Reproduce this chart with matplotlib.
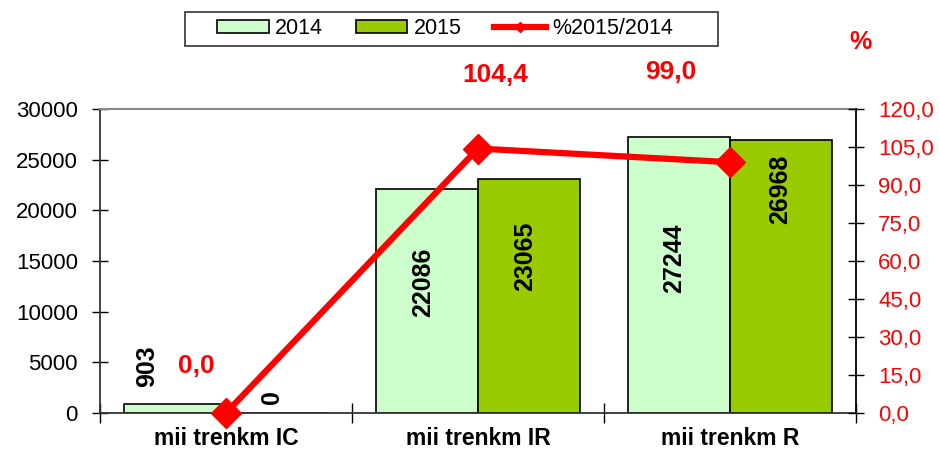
import numpy as np
import matplotlib.pyplot as plt
from matplotlib.patches import Rectangle
from matplotlib.ticker import FuncFormatter, MultipleLocator

plt.rcParams['font.family'] = ['Liberation Sans', 'DejaVu Sans']

# --- data ---
categories = ['mii trenkm IC', 'mii trenkm IR', 'mii trenkm R']
values_2014 = [903, 22086, 27244]
values_2015 = [0, 23065, 26968]
pct_2015_2014 = [0.0, 104.4, 99.0]

# label nudges (pixels), the labels were dragged by hand in the original
off_2014 = [(-28, 38), (-4, -93), (-5, -121)]
off_2015 = [(-5, 16), (-4, -77), (-1, -50)]
off_pct = [(-30, 47), (17, 74), (-59, 90)]

C14 = '#CCFFCC'
C15 = '#99CC00'
RED = '#FF0000'

fig = plt.figure(figsize=(9.39, 4.5), dpi=100)
ax = fig.add_axes([100 / 939, 1 - 413 / 450, 756 / 939, 304 / 450])

x = np.arange(len(categories))
w = 0.405
ax.bar(x - w / 2, values_2014, w, color=C14, edgecolor='black', linewidth=1.2, label='2014', zorder=2)
ax.bar(x + w / 2, values_2015, w, color=C15, edgecolor='black', linewidth=1.2, label='2015', zorder=2)

ax.set_xlim(-0.5, 2.5)
ax.set_ylim(0, 30000)
ax.yaxis.set_major_locator(MultipleLocator(5000))
ax.set_xticks([-0.5, 0.5, 1.5, 2.5])
ax.set_xticklabels([])
ax.set_xticks(x, minor=True)
ax.set_xticklabels(categories, minor=True, fontsize=16.5, fontweight='bold')
ax.tick_params(axis='x', which='minor', length=0, pad=10)
ax.tick_params(axis='x', which='major', direction='inout', length=14, width=1)
ax.tick_params(axis='y', direction='inout', length=12, width=1, labelsize=16, pad=10)

for side in ['left', 'bottom']:
    ax.spines[side].set_color('#333333')
    ax.spines[side].set_linewidth(1.3)
ax.spines['top'].set_color('#888888')
ax.spines['top'].set_linewidth(1.5)
ax.spines['right'].set_visible(False)

for i in range(len(categories)):
    ax.annotate(str(values_2014[i]), (x[i] - w / 2, values_2014[i]), xytext=off_2014[i],
                textcoords='offset pixels', ha='center', va='center', rotation=90,
                fontsize=18, fontweight='bold', zorder=5)
    ax.annotate(str(values_2015[i]), (x[i] + w / 2, values_2015[i]), xytext=off_2015[i],
                textcoords='offset pixels', ha='center', va='center', rotation=90,
                fontsize=18, fontweight='bold', zorder=5)

ax2 = ax.twinx()
ax2.set_ylim(0, 120)
ax2.yaxis.set_major_locator(MultipleLocator(15))
ax2.yaxis.set_major_formatter(FuncFormatter(lambda v, p: f'{v:.1f}'.replace('.', ',')))
ax2.tick_params(axis='y', direction='inout', length=12, width=1, labelsize=16,
                labelcolor=RED, pad=10)
ax2.spines['right'].set_color('black')
ax2.spines['right'].set_linewidth(1.3)
for side in ['left', 'top', 'bottom']:
    ax2.spines[side].set_visible(False)

ax2.plot(x, pct_2015_2014, color=RED, linewidth=4.5, marker='D', markersize=15,
         label='%2015/2014', clip_on=False, zorder=4)
for i in range(len(categories)):
    ax2.annotate(f'{pct_2015_2014[i]:.1f}'.replace('.', ','), (x[i], pct_2015_2014[i]),
                 xytext=off_pct[i], textcoords='offset pixels', ha='center', va='center',
                 color=RED, fontsize=19, fontweight='bold', annotation_clip=False)

fig.text(860 / 939, 1 - 42 / 450, '%', color=RED, fontsize=18, fontweight='bold',
         ha='center', va='center')

# legend with a hand-placed frame
fig.patches.append(Rectangle((185 / 939, 1 - 46 / 450), 533 / 939, 34 / 450,
                             transform=fig.transFigure, fill=False,
                             edgecolor='#333333', linewidth=1.2))
h1, l1 = ax.get_legend_handles_labels()
h2, l2 = ax2.get_legend_handles_labels()
fig.legend(h1 + h2, l1 + l2, loc='center', bbox_to_anchor=(445 / 939, 1 - 29 / 450),
           ncol=3, frameon=False, fontsize=15.5, handlelength=2.4, handleheight=0.55,
           handletextpad=0.3, columnspacing=1.5, borderpad=0, numpoints=1,
           markerscale=0.35)

fig.savefig('out.png', dpi=100)
